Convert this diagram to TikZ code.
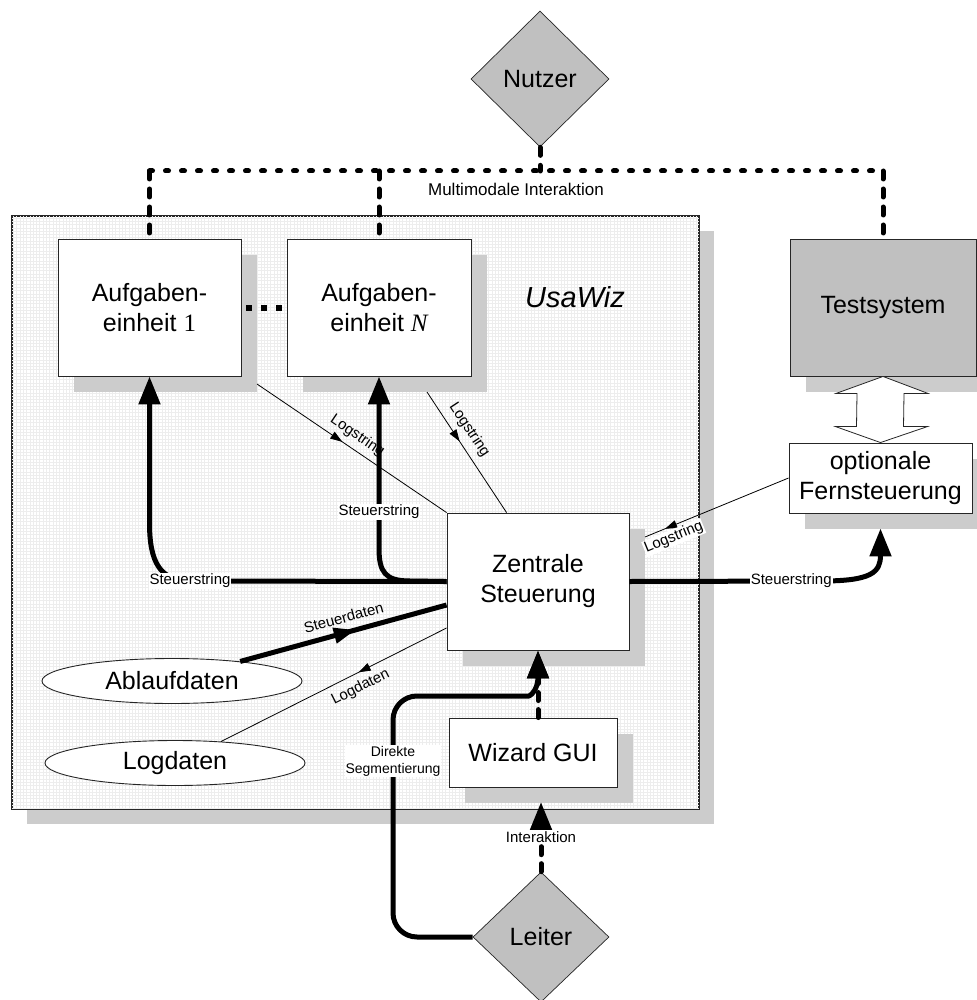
\documentclass[tikz,border=0pt]{standalone}
\usepackage{fontspec}
\setmainfont{Liberation Sans}
\newfontfamily\serifnum{Liberation Serif}
\usetikzlibrary{shapes.geometric,arrows.meta,shadows,decorations.markings,calc}
\definecolor{shadowgray}{HTML}{CCCCCC}
\definecolor{diagray}{HTML}{C0C0C0}
\definecolor{gridgray}{HTML}{EDEDED}
\begin{document}
\begin{tikzpicture}[x=1pt,y=-1pt,
  box/.style={draw=black!85,line width=0.9pt,fill=white,inner sep=0pt,align=center,
    font=\fontsize{25}{30}\selectfont},
  sh/.style={drop shadow={shadow xshift=16pt,shadow yshift=-16pt,fill=shadowgray,opacity=1}},
  dia/.style={diamond,draw=black!85,line width=0.7pt,fill=diagray,inner sep=0pt,
    font=\fontsize{25}{30}\selectfont},
  ell/.style={ellipse,draw=black!85,line width=0.9pt,fill=white,inner sep=0pt,
    minimum width=260pt,minimum height=45pt,font=\fontsize{25}{30}\selectfont},
  lbl/.style={fill=white,inner sep=1pt,sharp corners,font=\fontsize{15}{17}\selectfont},
  big/.style={line width=5pt,line join=round,-{Triangle[length=28pt,width=21pt]}},
  bigdash/.style={line width=5pt,dash pattern=on 8pt off 9pt,line cap=round,
    -{Triangle[length=28pt,width=21pt]}},
  busdash/.style={line width=5pt,dash pattern=on 8pt off 10pt,line cap=round},
  busdot/.style={line width=5pt,dash pattern=on 3pt off 13pt,line cap=round},
  thinline/.style={line width=0.8pt},
  midarrow/.style={decoration={markings,mark=at position #1 with {\arrow{Triangle[length=12pt,width=8pt]}}},postaction={decorate}},
  midarrowbig/.style={decoration={markings,mark=at position #1 with {\arrow{Triangle[length=22pt,width=15pt]}}},postaction={decorate}}
]
\useasboundingbox (0,0) rectangle (976,1000);
\fill[white] (0,0) rectangle (976,1000);

% UsaWiz frame
\node[draw=black!85,line width=1.3pt,fill=white,
  drop shadow={shadow xshift=15pt,shadow yshift=-15pt,fill=shadowgray,opacity=1},
  minimum width=687pt,minimum height=593pt,inner sep=0pt] (usa) at (355.5,512.5) {};
\draw[gridgray,line width=0.35pt,step=3.3pt] ([shift={(1,-1)}]usa.south west) grid ([shift={(-1,1)}]usa.north east);
\draw[black!85,line width=1.3pt] (usa.north west) rectangle (usa.south east);
\node[font=\fontsize{29}{33}\selectfont\itshape] (usatitle) at (575,297) {UsaWiz};

% nodes
\node[dia,minimum width=138pt,minimum height=136pt] (nutzer) at (540,79) {Nutzer};
\node[dia,minimum width=136pt,minimum height=130pt] (leiter) at (541,937) {Leiter};

\node[box,sh,minimum width=183pt,minimum height=137pt] (b1) at (149.5,307.5) {Aufgaben-\\einheit {\serifnum 1}};
\node[box,sh,minimum width=184pt,minimum height=137pt] (b2) at (379,307.5) {Aufgaben-\\einheit {\serifnum\itshape N}};
\node[box,sh,fill=diagray,minimum width=186pt,minimum height=137pt] (test) at (883,307.5) {Testsystem};
\node[box,sh,minimum width=183pt,minimum height=70pt] (fern) at (880.5,478) {optionale\\Fernsteuerung};
\node[box,sh,minimum width=182pt,minimum height=137pt] (zen) at (538,581.5) {Zentrale\\Steuerung};
\node[box,sh,minimum width=168pt,minimum height=69pt] (wiz) at (533,752.5) {Wizard GUI};

\node[ell] (abl) at (172,681) {Ablaufdaten};
\node[ell] (logd) at (175,763) {Logdaten};

% multimodal bus
\coordinate (busM) at (nutzer.south |- 0,171);
\coordinate (busL) at (b1.north |- 0,171);
\coordinate (busN) at (b2.north |- 0,171);
\coordinate (busR) at (test.north |- 0,171);
\draw[busdot] (busL) -- (busR);
\draw[busdash] (nutzer.south) -- (busM);
\draw[busdash] (busL) -- (b1.north);
\draw[busdash] (busN) -- (b2.north);
\draw[busdash] (busR) -- (test.north);
\node[font=\fontsize{17}{20}\selectfont] (mmi) at (516,189) {Multimodale Interaktion};

% dots between task units
\draw[line width=6pt,dash pattern=on 6pt off 9pt] ([xshift=5pt]b1.east) -- (b2.west);

% double arrow Testsystem <-> Fernsteuerung
\draw[draw=black!85,line width=0.8pt,fill=white]
  (test.south) -- ([shift={(45,17)}]test.south) -- ([shift={(21,17)}]test.south)
  -- ([shift={(23,-16)}]fern.north) -- ([shift={(47,-16)}]fern.north) -- (fern.north)
  -- ([shift={(-45,-16)}]fern.north) -- ([shift={(-24,-16)}]fern.north)
  -- ([shift={(-26,17)}]test.south) -- ([shift={(-47,17)}]test.south) -- cycle;

% Steuerstring arrows
\draw[big] (zen.west) -- (190,581) node[lbl]{Steuerstring}
  .. controls (160,581) and (149.5,562) .. (149.5,523) -- (b1.south);
\draw[big] (zen.west) -- (410,581) .. controls (385,581) and (379,572) .. (379,548)
  -- node[lbl,pos=0.21]{Steuerstring} (b2.south);
\draw[big] (zen.east) -- node[lbl,pos=0.84]{Steuerstring} (822,581)
  .. controls (872,581) and (880.5,572) .. ([yshift=-15pt]fern.south);

% Logstrings
\coordinate (b1c) at (257,384);
\coordinate (b2c) at (427,392);
\coordinate (zsh) at (645,537);
\draw[thinline,midarrow=0.45] (b1c) -- node[lbl,fill=none,sloped,above=5pt,pos=0.49]{Logstring} (zen.north west);
\draw[thinline,midarrow=0.41] (b2c) -- node[lbl,fill=none,sloped,above=6pt,pos=0.38]{Logstring} ([xshift=60pt]zen.north west);
\draw[thinline,midarrow=0.86] (fern.west) -- node[lbl,sloped,below=3pt,pos=0.83]{Logstring} (zsh);

% Steuerdaten / Logdaten
\draw[line width=5pt,midarrowbig=0.56] (abl.16) -- node[lbl,fill=none,sloped,above=6pt,pos=0.52]{Steuerdaten} (zen.west |- 0,605);
\draw[thinline,midarrow=0.39] (zen.west |- 0,628) -- node[lbl,fill=none,sloped,below=6pt,pos=0.41]{Logdaten} (logd.25);

% Leiter paths
\coordinate (wizsh) at (leiter.north |- 0,802);
\draw[bigdash] (zen.south |- wiz.north) -- (zen.south);
\draw[big,rounded corners=24pt] (leiter.west) -- (393,937) -- node[lbl,align=center,pos=0.73,font=\fontsize{14}{17}\selectfont]{Direkte\\Segmentierung} (393,696) -- (505,696)
  [sharp corners] .. controls (530,696) and (538,690) .. (zen.south);
\draw[bigdash] (leiter.north) -- node[lbl]{Interaktion} (wizsh);
\end{tikzpicture}
\end{document}
